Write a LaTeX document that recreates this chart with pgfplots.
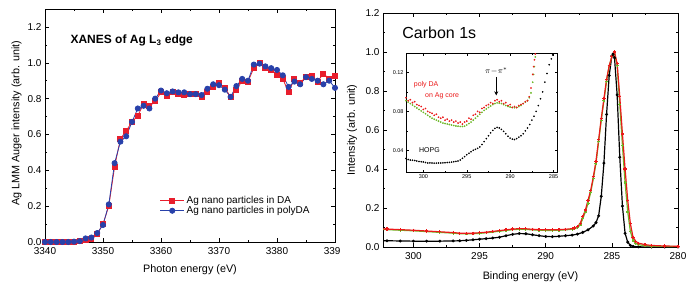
\documentclass[border=0pt]{standalone}
\usepackage{fontspec}
\setmainfont{Liberation Sans}
\usepackage{pgfplots}
\usepackage{pgfplotstable}
\pgfplotsset{compat=1.18}
\usetikzlibrary{arrows.meta}

\definecolor{dared}{RGB}{232,30,45}
\definecolor{dablue}{RGB}{40,65,170}
\definecolor{cred}{RGB}{235,25,25}
\definecolor{cgreen}{RGB}{110,185,40}

% Left panel data
\pgfplotstableread{
E v
3340 0.000
3341 0.000
3342 0.000
3343 0.000
3344 0.000
3345 0.002
3346 0.005
3347 0.010
3348 0.015
3349 0.045
3350 0.100
3351 0.200
3352 0.420
3353 0.575
3354 0.620
3355 0.670
3356 0.705
3357 0.770
3358 0.760
3359 0.785
3360 0.835
3361 0.815
3362 0.840
3363 0.825
3364 0.820
3365 0.825
3366 0.825
3367 0.810
3368 0.840
3369 0.865
3370 0.885
3371 0.860
3372 0.810
3373 0.850
3374 0.900
3375 0.895
3376 0.970
3377 1.000
3378 0.970
3379 0.960
3380 0.930
3381 0.910
3382 0.835
3383 0.910
3384 0.890
3385 0.920
3386 0.925
3387 0.895
3388 0.940
3389 0.910
3390 0.925
}\tblDA

\pgfplotstableread{
E v
3340 0.000
3341 0.000
3342 0.000
3343 0.000
3344 0.000
3345 0.002
3346 0.005
3347 0.020
3348 0.025
3349 0.050
3350 0.095
3351 0.210
3352 0.440
3353 0.560
3354 0.590
3355 0.670
3356 0.745
3357 0.760
3358 0.745
3359 0.800
3360 0.845
3361 0.830
3362 0.840
3363 0.835
3364 0.835
3365 0.825
3366 0.825
3367 0.820
3368 0.855
3369 0.880
3370 0.875
3371 0.850
3372 0.810
3373 0.870
3374 0.910
3375 0.900
3376 0.990
3377 0.995
3378 0.980
3379 0.970
3380 0.960
3381 0.930
3382 0.865
3383 0.895
3384 0.880
3385 0.920
3386 0.910
3387 0.900
3388 0.880
3389 0.900
3390 0.860
}\tblPDA

% Right panel main data
\pgfplotstableread{
E v
302.5 0.094
302.0 0.092
301.0 0.089
300.0 0.086
299.0 0.082
298.0 0.078
297.0 0.074
296.5 0.071
296.0 0.070
295.5 0.071
295.0 0.073
294.5 0.076
294.0 0.080
293.5 0.084
293.0 0.088
292.5 0.092
292.0 0.094
291.5 0.093
291.0 0.091
290.5 0.089
290.0 0.088
289.5 0.088
289.0 0.089
288.5 0.091
288.0 0.094
287.8 0.097
287.6 0.104
287.4 0.120
287.2 0.155
287.0 0.190
286.8 0.240
286.6 0.290
286.4 0.360
286.2 0.440
286.0 0.550
285.8 0.660
285.6 0.760
285.4 0.860
285.2 0.930
285.0 0.975
284.8 1.000
284.6 0.940
284.4 0.770
284.2 0.580
284.0 0.400
283.8 0.240
283.6 0.120
283.4 0.050
283.2 0.030
283.0 0.020
282.5 0.012
282.0 0.008
281.0 0.005
280.0 0.004
}\tblRed

\pgfplotstableread{
E v
302.5 0.090
302.0 0.089
301.0 0.086
300.0 0.083
299.0 0.079
298.0 0.075
297.0 0.071
296.5 0.068
296.0 0.067
295.5 0.068
295.0 0.070
294.5 0.073
294.0 0.077
293.5 0.081
293.0 0.085
292.5 0.089
292.0 0.091
291.5 0.090
291.0 0.088
290.5 0.086
290.0 0.085
289.5 0.085
289.0 0.086
288.5 0.088
288.0 0.091
287.8 0.094
287.6 0.100
287.4 0.113
287.2 0.145
287.0 0.180
286.8 0.225
286.6 0.280
286.4 0.350
286.2 0.430
286.0 0.540
285.8 0.650
285.6 0.750
285.4 0.850
285.2 0.930
285.0 0.975
284.8 1.000
284.6 0.930
284.4 0.730
284.2 0.520
284.0 0.330
283.8 0.180
283.6 0.080
283.4 0.035
283.2 0.018
283.0 0.012
282.5 0.007
282.0 0.005
281.0 0.003
280.0 0.002
}\tblGreen

\pgfplotstableread{
E v
302.5 0.033
302.0 0.032
301.0 0.031
300.0 0.030
299.0 0.030
298.0 0.030
297.0 0.031
296.5 0.032
296.0 0.034
295.5 0.037
295.0 0.040
294.5 0.043
294.0 0.046
293.5 0.050
293.0 0.058
292.5 0.065
292.0 0.069
291.5 0.068
291.0 0.063
290.5 0.058
290.0 0.054
289.5 0.053
289.0 0.055
288.5 0.058
288.0 0.061
287.6 0.066
287.2 0.075
286.8 0.088
286.4 0.108
286.2 0.125
286.0 0.160
285.8 0.260
285.6 0.430
285.4 0.680
285.2 0.880
285.0 0.980
284.9 0.990
284.8 0.970
284.6 0.780
284.4 0.460
284.2 0.210
284.0 0.070
283.8 0.025
283.6 0.008
283.4 0.003
283.0 0.001
282.0 0.000
281.0 0.000
280.0 0.000
}\tblBlack

% Inset data
\pgfplotstableread{
E v
302.0 0.094
301.75 0.091
301.5 0.092
301.25 0.089
301.0 0.090
300.75 0.087
300.5 0.086
300.25 0.085
300.0 0.082
299.75 0.083
299.5 0.080
299.25 0.079
299.0 0.078
298.75 0.076
298.5 0.077
298.25 0.074
298.0 0.073
297.75 0.074
297.5 0.071
297.25 0.072
297.0 0.070
296.75 0.071
296.5 0.069
296.25 0.070
296.0 0.068
295.75 0.069
295.5 0.067
295.25 0.069
295.0 0.070
294.75 0.073
294.5 0.072
294.25 0.076
294.0 0.077
293.75 0.080
293.5 0.079
293.25 0.083
293.0 0.084
292.75 0.086
292.5 0.087
292.25 0.089
292.0 0.088
291.75 0.091
291.5 0.092
291.25 0.090
291.0 0.091
290.75 0.088
290.5 0.089
290.25 0.086
290.0 0.087
289.75 0.084
289.5 0.085
289.25 0.084
289.0 0.086
288.75 0.087
288.5 0.088
288.25 0.090
288.0 0.091
287.8 0.095
287.6 0.104
287.4 0.118
287.3 0.126
287.2 0.133
287.1 0.139
}\tblInRed

\pgfplotstableread{
E v
302.0 0.091
301.75 0.0895
301.5 0.088
301.25 0.0865
301.0 0.085
300.75 0.0835
300.5 0.082
300.25 0.0805
300.0 0.079
299.75 0.0775
299.5 0.076
299.25 0.0745
299.0 0.073
298.75 0.072
298.5 0.071
298.25 0.070
298.0 0.069
297.75 0.068
297.5 0.0675
297.25 0.067
297.0 0.0665
296.75 0.066
296.5 0.0655
296.25 0.065
296.0 0.0648
295.75 0.0645
295.5 0.0645
295.25 0.0648
295.0 0.066
294.75 0.0675
294.5 0.069
294.25 0.071
294.0 0.073
293.75 0.075
293.5 0.077
293.25 0.079
293.0 0.081
292.75 0.0825
292.5 0.084
292.25 0.0855
292.0 0.087
291.75 0.088
291.5 0.0888
291.25 0.0885
291.0 0.088
290.75 0.087
290.5 0.086
290.25 0.085
290.0 0.0845
289.75 0.084
289.5 0.0838
289.25 0.084
289.0 0.085
288.75 0.086
288.5 0.088
288.25 0.0895
288.0 0.091
287.8 0.094
287.6 0.099
287.4 0.110
287.3 0.118
287.2 0.126
287.1 0.136
}\tblInGreen

\pgfplotstableread{
E v
302.0 0.0315
301.75 0.0305
301.5 0.030
301.25 0.0298
301.0 0.0295
300.75 0.029
300.5 0.0285
300.25 0.0282
300.0 0.028
299.75 0.0275
299.5 0.027
299.25 0.027
299.0 0.027
298.75 0.0268
298.5 0.0268
298.25 0.0269
298.0 0.027
297.75 0.0271
297.5 0.0272
297.25 0.0274
297.0 0.0276
296.75 0.0279
296.5 0.0282
296.25 0.0286
296.0 0.029
295.75 0.030
295.5 0.0318
295.25 0.0335
295.0 0.0355
294.75 0.037
294.5 0.0385
294.25 0.040
294.0 0.041
293.75 0.042
293.5 0.0435
293.25 0.046
293.0 0.049
292.75 0.052
292.5 0.055
292.25 0.058
292.0 0.0605
291.75 0.0625
291.5 0.0635
291.25 0.063
291.0 0.0615
290.75 0.0595
290.5 0.057
290.25 0.0545
290.0 0.0525
289.75 0.0515
289.5 0.051
289.25 0.052
289.0 0.0535
288.75 0.055
288.5 0.057
288.25 0.060
288.0 0.063
287.75 0.0665
287.5 0.071
287.25 0.075
287.0 0.080
286.75 0.086
286.5 0.093
286.25 0.100
286.0 0.110
285.75 0.119
285.5 0.128
285.25 0.134
285.1 0.138
}\tblInBlack

\pgfplotsset{
  mystyle/.style={
    scale only axis,
    tick align=inside,
    major tick length=4pt,
    minor tick length=2pt,
    every tick/.style={black, line width=0.5pt},
    axis line style={line width=0.6pt},
    tick label style={font=\fontsize{10}{12}\selectfont},
    label style={font=\fontsize{10.8}{13}\selectfont},
    xticklabel style={yshift=-1.5pt},
    /pgf/number format/assume math mode=true,
    yticklabel style={/pgf/number format/fixed, /pgf/number format/fixed zerofill, /pgf/number format/precision=1},
  }
}

\begin{document}
\begin{tikzpicture}
\useasboundingbox (0,0) rectangle (699pt,282pt);

% ---------- Left panel ----------
\begin{axis}[mystyle,
  at={(45pt,40pt)}, anchor=south west,
  width=290pt, height=233pt,
  xmin=3340, xmax=3390, ymin=0, ymax=1.3,
  xtick={3340,3350,3360,3370,3380,3390},
  xticklabels={3340,3350,3360,3370,3380,339\phantom{0}},
  minor xtick={3345,3355,3365,3375,3385},
  ytick={0,0.2,0.4,0.6,0.8,1.0,1.2},
  minor ytick={0.1,0.3,0.5,0.7,0.9,1.1},
  xlabel={Photon energy (eV)},
  xlabel style={at={(axis description cs:0.5,0)}, anchor=center, yshift=-28pt},
  ylabel={Ag LMM Auger intensity (arb. unit)},
  ylabel style={at={(axis description cs:-0.098,0.51)}, anchor=center},
  legend style={draw=none, fill=none, at={(axis description cs:0.385,0.215)}, anchor=north west,
    font=\fontsize{10}{12}\selectfont, row sep=-2.5pt},
  legend cell align=left,
  legend image code/.code={\draw[mark repeat=2,mark phase=2] plot coordinates {(0pt,0pt) (12pt,0pt) (24pt,0pt)};},
]
\addplot[color=dared, line width=0.8pt, mark=square*, mark size=2.5pt, mark options={fill=dared, draw=dared}] table[x=E,y=v] {\tblDA};
\addlegendentry{Ag nano particles in DA}
\addplot[color=dablue, line width=0.8pt, mark=*, mark size=2.6pt, mark options={fill=dablue, draw=dablue}] table[x=E,y=v] {\tblPDA};
\addlegendentry{Ag nano particles in polyDA}
\node[anchor=west, font=\bfseries\fontsize{12}{14}\selectfont] at (axis cs:3343.8,1.123) {XANES of Ag L\textsubscript{3} edge};
\end{axis}

% ---------- Right panel ----------
\begin{axis}[mystyle,
  at={(383pt,35pt)}, anchor=south west,
  width=295pt, height=234pt,
  x dir=reverse,
  xmin=280, xmax=302.3, ymin=0, ymax=1.2,
  xtick={280,285,290,295,300},
  minor xtick={282.5,287.5,292.5,297.5,302.5},
  ytick={0,0.2,0.4,0.6,0.8,1.0,1.2},
  minor ytick={0.1,0.3,0.5,0.7,0.9,1.1},
  xlabel={Binding energy (eV)},
  xlabel style={at={(axis description cs:0.5,0)}, anchor=center, yshift=-30pt},
  ylabel={Intensity (arb. unit)},
  ylabel style={at={(axis description cs:-0.105,0.5)}, anchor=center},
]
\addplot[color=black, line width=1.2pt, mark=*, mark size=0.8pt] table[x=E,y=v] {\tblBlack};
\addplot[color=cgreen, line width=1.2pt, mark=+, mark size=1.5pt] table[x=E,y=v] {\tblGreen};
\addplot[color=cred, line width=1.2pt, mark=+, mark size=1.6pt] table[x=E,y=v] {\tblRed};
\node[anchor=west, font=\fontsize{16}{19}\selectfont] at (axis cs:301.1,1.10) {Carbon 1s};
\end{axis}

% ---------- Inset ----------
\begin{axis}[scale only axis,
  at={(406pt,110pt)}, anchor=south west,
  width=151pt, height=119pt,
  axis background/.style={fill=white},
  x dir=reverse,
  xmin=284.6, xmax=302.0, ymin=0.0177, ymax=0.140,
  tick align=inside,
  major tick length=2.5pt, minor tick length=1.5pt,
  every tick/.style={black, line width=0.4pt},
  axis line style={line width=0.5pt},
  xtick={285,290,295,300},
  minor xtick={287.5,292.5,297.5},
  ytick={0.04,0.08,0.12},
  minor ytick={0.06,0.10},
  tick label style={font=\fontsize{5.5}{6}\selectfont},
  /pgf/number format/assume math mode=true,
  yticklabel style={/pgf/number format/fixed, /pgf/number format/fixed zerofill, /pgf/number format/precision=2, xshift=1pt},
  xticklabel style={yshift=1pt},
]
\addplot[only marks, color=black, mark=*, mark size=0.6pt] table[x=E,y=v] {\tblInBlack};
\addplot[only marks, color=cgreen, mark=*, mark size=0.65pt] table[x=E,y=v] {\tblInGreen};
\addplot[only marks, color=cred, mark=*, mark size=0.65pt] table[x=E,y=v] {\tblInRed};
\draw[-{Stealth[length=4pt,width=4pt]}, line width=0.9pt] (axis cs:291.6,0.1155) -- (axis cs:291.6,0.0965);
\node[font=\fontsize{8}{9}\selectfont] at (axis cs:291.6,0.1215) {$\pi\!-\!\pi^{*}$};
\node[anchor=west, text=cred, font=\fontsize{7}{8}\selectfont] at (axis cs:301.5,0.1075) {poly DA};
\node[anchor=west, text=cred, font=\fontsize{7}{8}\selectfont] at (axis cs:300.2,0.0965) {on Ag core};
\node[anchor=west, font=\fontsize{7}{8}\selectfont] at (axis cs:300.9,0.0405) {HOPG};
\end{axis}
\end{tikzpicture}
\end{document}
